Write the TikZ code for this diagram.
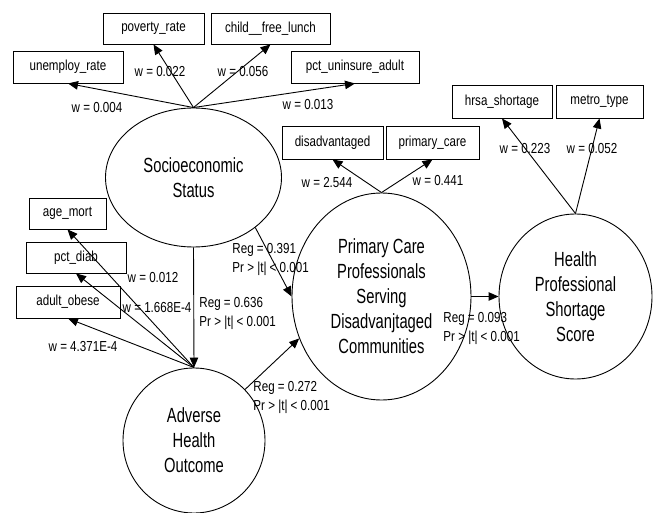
\documentclass[tikz,border=0pt]{standalone}
\usepackage{fontspec}
\setmainfont{Liberation Sans}[FakeStretch=0.8]
\newfontfamily\latfont{Liberation Sans}[FakeStretch=0.72]
\usetikzlibrary{shapes.geometric,arrows.meta}

\begin{document}
\begin{tikzpicture}[x=1pt,y=-1pt,line width=0.9pt,
	ind/.style={draw,rectangle,minimum height=32pt,inner sep=0pt,font=\fontsize{14.5}{17}\selectfont},
	lat/.style={draw,ellipse,inner sep=0pt,align=center,font=\latfont\fontsize{20.5}{25}\selectfont},
	wt/.style={inner sep=0pt,font=\fontsize{14.5}{17}\selectfont},
	reg/.style={inner sep=0pt,anchor=west,align=left,font=\fontsize{14.5}{19}\selectfont},
	arr/.style={-{Triangle[length=10pt,width=8.5pt]}}]
				%%%%% START %%%%%
				\useasboundingbox (0,0) rectangle (656,513);
				
				% latent variables
				\node[lat,minimum width=176pt,minimum height=139pt] (ses) at (193.5,177.5) {Socioeconomic\\Status};
				\node[lat,minimum width=179pt,minimum height=207pt] (pcp) at (381.5,296.5) {Primary Care\\Professionals\\Serving\\Disadvanjtaged\\Communities};
				\node[lat,minimum width=153pt,minimum height=165pt] (hpss) at (575.5,296.5) {Health\\Professional\\Shortage\\Score};
				\node[lat,minimum width=142pt,minimum height=145pt] (aho) at (194,440.5) {Adverse\\Health\\Outcome};
				
				% indicators
				\node[ind,minimum width=110pt] (unemploy) at (68,67) {unemploy\_rate};
				\node[ind,minimum width=101pt,minimum height=31pt] (poverty) at (153.5,28.5) {poverty\_rate};
				\node[ind,minimum width=119pt,minimum height=31pt] (lunch) at (270.5,28.5) {child\_\_free\_lunch};
				\node[ind,minimum width=128pt] (uninsure) at (355,67) {pct\_uninsure\_adult};
				\node[ind,minimum width=101pt,minimum height=33pt] (disadv) at (332.5,142.5) {disadvantaged};
				\node[ind,minimum width=93pt,minimum height=33pt] (primary) at (432.5,142.5) {primary\_care};
				\node[ind,minimum width=100pt,minimum height=33pt] (hrsa) at (502,101.5) {hrsa\_shortage};
				\node[ind,minimum width=87pt,minimum height=33pt] (metro) at (599.5,101.5) {metro\_type};
				\node[ind,minimum width=77pt,minimum height=31pt] (mort) at (67.5,213.5) {age\_mort};
				\node[ind,minimum width=100pt,minimum height=31pt] (diab) at (76,257.5) {pct\_diab};
				\node[ind,minimum width=104pt] (obese) at (68,302) {adult\_obese};
				
				% loadings
				\draw[arr] (ses.north) -- (unemploy.south);
				\draw[arr] (ses.north) -- (poverty.south);
				\draw[arr] (ses.north) -- (lunch.south);
				\draw[arr] (ses.north) -- (uninsure.south);
				\draw[arr] (pcp.north) -- (disadv.south);
				\draw[arr] (pcp.north) -- (primary.south);
				\draw[arr] (hpss.north) -- (hrsa.south);
				\draw[arr] (hpss.north) -- (metro.south);
				\draw[arr] (aho.north) -- (mort.south);
				\draw[arr] (aho.north) -- (diab.south);
				\draw[arr] (aho.north) -- (obese.south);
				
				% paths
				\draw[arr] (ses.south) -- (aho.north);
				\draw[arr] (ses.-39) -- (pcp.west);
				\draw[arr] (aho.45) -- (pcp.207);
				\draw[arr] (pcp.east) -- (hpss.west);
				
				% weights
				\node[wt] (w004) at (97,108) {w = 0.004};
				\node[wt] (w022) at (160,72) {w = 0.022};
				\node[wt] (w056) at (243,72) {w = 0.056};
				\node[wt] (w013) at (308,105) {w = 0.013};
				\node[wt] (w2544) at (327,183) {w = 2.544};
				\node[wt] (w441) at (438,181) {w = 0.441};
				\node[wt] (w223) at (525,149) {w = 0.223};
				\node[wt] (w052) at (592,149) {w = 0.052};
				\node[wt] (w012) at (153,278) {w = 0.012};
				\node[wt] (w1668) at (157,308) {w = 1.668E-4};
				\node[wt] (w4371) at (83,347) {w = 4.371E-4};
				
				% regressions
				\node[reg] (reg391) at (232,259.5) {Reg = 0.391\\Pr > |t| < 0.001};
				\node[reg] (reg636) at (199,313) {Reg = 0.636\\Pr > |t| < 0.001};
				\node[reg] (reg272) at (253,397.5) {Reg = 0.272\\Pr > |t| < 0.001};
				\node[reg] (reg093) at (443,328.5) {Reg = 0.093\\Pr > |t| < 0.001};
				%%%%% END %%%%%
\end{tikzpicture}
\end{document}
